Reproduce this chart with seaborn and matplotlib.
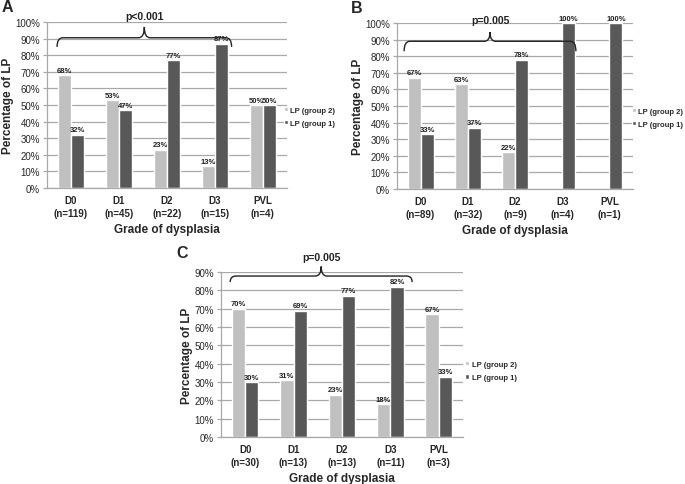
import matplotlib
matplotlib.use("Agg")
import numpy as np
import pandas as pd
import matplotlib.pyplot as plt
import seaborn as sns
from matplotlib.path import Path
from matplotlib.patches import PathPatch
from matplotlib.ticker import PercentFormatter

sns.set_style("white")
plt.rcParams['font.family'] = ['Liberation Sans', 'DejaVu Sans']

# ---- data ----
grades = ['D0', 'D1', 'D2', 'D3', 'PVL']
groups = ['LP (group 2)', 'LP (group 1)']

n_a = [119, 45, 22, 15, 4]
grp2_a = [68, 53, 23, 13, 50]
grp1_a = [32, 47, 77, 87, 50]

n_b = [89, 32, 9, 4, 1]
grp2_b = [67, 63, 22, 0, 0]
grp1_b = [33, 37, 78, 100, 100]

n_c = [30, 13, 13, 11, 3]
grp2_c = [70, 31, 23, 18, 67]
grp1_c = [30, 69, 77, 82, 33]

p_texts = ['p<0.001', 'p=0.005', 'p=0.005']

palette = {'LP (group 2)': '#c0c0c0', 'LP (group 1)': '#585858'}
grid_col = '#a8a8a8'


def make_frame(ns, g2, g1):
    labels = [f'{g}\n(n={n})' for g, n in zip(grades, ns)]
    rows = []
    for lab, a, b in zip(labels, g2, g1):
        rows.append({'grade': lab, 'group': groups[0], 'pct': a})
        rows.append({'grade': lab, 'group': groups[1], 'pct': b})
    return pd.DataFrame(rows), labels


def draw_brace(ax, x0, x1, y, tip, peak, d=0.12):
    """Curly brace between x0 and x1 (data coords)"""
    xm = (x0 + x1) / 2
    verts = [(x0, tip), (x0, y), (x0 + d, y),
             (xm - d, y), (xm, y), (xm, peak),
             (xm, y), (xm + d, y),
             (x1 - d, y), (x1, y), (x1, tip)]
    codes = [Path.MOVETO, Path.CURVE3, Path.CURVE3,
             Path.LINETO, Path.CURVE3, Path.CURVE3,
             Path.CURVE3, Path.CURVE3,
             Path.LINETO, Path.CURVE3, Path.CURVE3]
    patch = PathPatch(Path(verts, codes), fill=False, lw=1.0,
                      edgecolor='#222222', clip_on=False)
    ax.add_patch(patch)


def panel(fig, rect, ns, g2, g1, ymax, letter, letter_xy, ptext, brace, legend_pos):
    ax = fig.add_axes(rect)
    df, labels = make_frame(ns, g2, g1)
    sns.barplot(data=df, x='grade', y='pct', hue='group', hue_order=groups,
                palette=palette, width=0.55, gap=0, saturation=1,
                ax=ax, legend=True)

    for cont in ax.containers:
        vals = cont.datavalues
        labs = [f'{v:.0f}%' if v > 0 else '' for v in vals]
        ax.bar_label(cont, labels=labs, padding=1, fontsize=5.5,
                     fontweight='bold', color='#222222')

    ax.set_ylim(0, ymax)
    ax.set_xlim(-0.5, 4.5)
    ax.set_yticks(np.arange(0, ymax + 1, 10))
    ax.yaxis.set_major_formatter(PercentFormatter(decimals=0))
    ax.yaxis.grid(True, color=grid_col, lw=0.9)
    ax.set_axisbelow(True)
    for s in ['top', 'right']:
        ax.spines[s].set_visible(False)
    for s in ['left', 'bottom']:
        ax.spines[s].set_color(grid_col)
        ax.spines[s].set_linewidth(0.9)

    ax.set_xticks(range(len(labels)))
    ax.set_xticklabels(labels, fontsize=7, fontweight='bold', linespacing=1.35)
    ax.set_xticks(np.arange(-0.5, 5, 1), minor=True)
    ax.tick_params(axis='x', which='major', length=0, pad=5)
    ax.tick_params(axis='x', which='minor', length=3, color=grid_col, width=0.9)
    ax.tick_params(axis='y', length=3, color=grid_col, width=0.9, labelsize=7, pad=2)
    ax.tick_params(axis='both', direction='out', left=True, bottom=True)

    ax.set_xlabel('Grade of dysplasia', fontsize=8.5, fontweight='bold', labelpad=4)
    ax.set_ylabel('Percentage of LP', fontsize=8.5, fontweight='bold', labelpad=1)

    x0, x1, y, tip, peak, ty = brace
    draw_brace(ax, x0, x1, y, tip, peak)
    ax.text((x0 + x1) / 2, ty, ptext, ha='center', va='center', fontsize=7.5,
            fontweight='bold', color='#222222', clip_on=False)

    handles, _ = ax.get_legend_handles_labels()
    ax.legend(handles, groups, loc='center left', bbox_to_anchor=legend_pos,
              frameon=False, prop={'weight': 'bold', 'size': 5.5},
              handlelength=0.5, handleheight=0.5, handletextpad=0.3,
              labelspacing=0.8, borderaxespad=0, borderpad=0)

    fig.text(letter_xy[0] / 685, 1 - letter_xy[1] / 485, letter, fontsize=11.5,
             fontweight='bold', ha='left', va='top')
    return ax


fig = plt.figure(figsize=(6.85, 4.85), dpi=100)

panel(fig, [0.0686, 0.6103, 0.350, 0.3423], n_a, grp2_a, grp1_a, 100, 'A', (2, 0),
      p_texts[0], (-0.29, 3.35, 90.5, 85, 97, 103.5), (0.99, 0.43))
panel(fig, [0.5796, 0.6082, 0.3445, 0.3423], n_b, grp2_b, grp1_b, 100, 'B', (351, 1),
      p_texts[1], (-0.35, 3.29, 89, 83, 94.5, 102), (0.995, 0.43))
panel(fig, [0.3226, 0.0969, 0.3533, 0.3402], n_c, grp2_c, grp1_c, 90, 'C', (176, 246),
      p_texts[2], (-0.31, 3.45, 87.8, 84.5, 93, 98), (1.01, 0.40))

fig.savefig('out.png', dpi=100)
